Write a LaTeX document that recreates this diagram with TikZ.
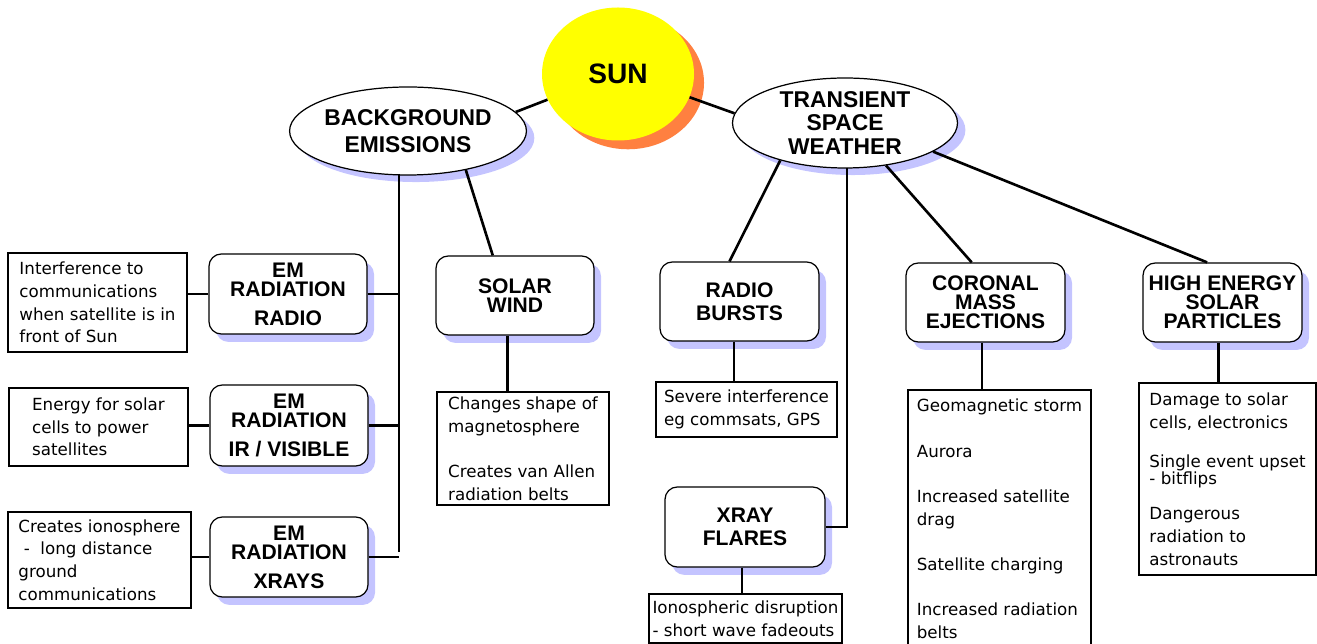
\documentclass[tikz,border=0pt]{standalone}
\usepackage{fontspec}
\setmainfont{Liberation Sans}
\newfontfamily\notefont{DejaVu Sans}
\usetikzlibrary{shapes.geometric,shadows}
\newdimen\pxu \pxu=0.02cm
\definecolor{sunyellow}{HTML}{FFFF00}
\definecolor{sunorange}{HTML}{FF8040}
\definecolor{shade}{HTML}{C4C4FF}
\begin{document}
\begin{tikzpicture}[x=0.02cm,y=-0.02cm,
  conn/.style={line width=1.5pt},
  topic/.style={draw, line width=0.7pt, fill=white, rounded corners=7pt, align=center,
    font=\bfseries\fontsize{12}{10.8}\selectfont, minimum width=158*\pxu, minimum height=80*\pxu,
    inner sep=0pt, drop shadow={shadow xshift=4pt, shadow yshift=-4.5pt, fill=shade, opacity=1}},
  note/.style={draw, line width=0.7pt, fill=white, align=left,
    font=\notefont\fontsize{9.5}{12.9}\selectfont, inner sep=0pt},
  ell/.style={ellipse, draw, line width=0.7pt, fill=white, minimum width=225*\pxu,
    minimum height=88*\pxu, inner sep=0pt, align=center,
    drop shadow={shadow xshift=4.5pt, shadow yshift=-4pt, fill=shade, opacity=1}}
]
\useasboundingbox (0,0) rectangle (1317,644);

% sun
\node[ellipse, fill=sunyellow, minimum width=152*\pxu, minimum height=133*\pxu, inner sep=0pt,
  drop shadow={shadow xshift=5.7pt, shadow yshift=-5pt, fill=sunorange, opacity=1},
  font=\bfseries\fontsize{16}{16}\selectfont] (sun) at (618,74) {\raisebox{-1.5pt}{SUN}};

% ellipses
\node[ell, font=\bfseries\fontsize{13}{15.3}\selectfont] (bg) at (408,131) {BACKGROUND\\EMISSIONS};
\node[ell, minimum height=90*\pxu, font=\bfseries\fontsize{13}{13.3}\selectfont] (tsw) at (845,123) {TRANSIENT\\SPACE\\WEATHER};

% left topics
\node[topic] (emr) at (288,294) {EM\\RADIATION\\[5.7pt]RADIO};
\node[topic, minimum height=81*\pxu] (emi) at (289,425.5) {EM\\RADIATION\\[5.7pt]IR / VISIBLE};
\node[topic] (emx) at (289,557) {EM\\RADIATION\\[5.7pt]XRAYS};

\node[note, minimum width=179*\pxu, minimum height=99*\pxu] (t1) at (97.5,302.5)
  {Interference to\\communications\\when satellite is in\\front of Sun};
\node[note, minimum width=179*\pxu, minimum height=78*\pxu] (t2) at (98.5,427)
  {Energy for solar\\cells to power\\satellites};
\node[note, minimum width=183*\pxu, minimum height=96*\pxu] (t3) at (99.5,560)
  {Creates ionosphere\\\ -\ \ long distance\\ground\\communications};

% solar wind
\node[topic, minimum height=79*\pxu] (sw) at (515,295.5) {SOLAR\\WIND};
\node[note, minimum width=172*\pxu, minimum height=113*\pxu] (swt) at (523,448.5)
  {Changes shape of\\magnetosphere\\[12.9pt]Creates van Allen\\radiation belts};

% radio bursts
\node[topic, minimum width=159*\pxu, minimum height=79*\pxu, font=\bfseries\fontsize{12}{13}\selectfont] (rb) at (739.5,301.5) {RADIO\\BURSTS};
\node[note, minimum width=181*\pxu, minimum height=55*\pxu] (rbt) at (746.5,409.5)
  {Severe interference\\eg commsats, GPS};

% xray flares
\node[topic, minimum width=160*\pxu, font=\bfseries\fontsize{12}{13}\selectfont] (xf) at (745,527) {XRAY\\FLARES};
\node[note, minimum width=193*\pxu, minimum height=49*\pxu] (xft) at (745.5,618.5)
  {Ionospheric disruption\\- short wave fadeouts};

% coronal mass ejections
\node[topic, minimum width=159*\pxu, minimum height=79*\pxu] (cme) at (985.5,302.5) {CORONAL\\MASS\\EJECTIONS};
\node[note, minimum width=183*\pxu, minimum height=258*\pxu] (cmet) at (999.5,519)
  {Geomagnetic storm\\[12.9pt]Aurora\\[12.9pt]Increased satellite\\drag\\[12.9pt]Satellite charging\\[12.9pt]Increased radiation\\belts};

% high energy solar particles
\node[topic, minimum width=159*\pxu, minimum height=79*\pxu] (hesp) at (1222.5,302.5) {HIGH ENERGY\\SOLAR\\PARTICLES};
\node[note, minimum width=177*\pxu, minimum height=192*\pxu] (hespt) at (1227.5,479)
  {Damage to solar\\cells, electronics\\[9.8pt]Single event upset\\[-3.3pt]- bitflips\\[7pt]Dangerous\\radiation to\\astronauts};

% trunk coordinates
\coordinate (tb) at (399,174);
\coordinate (te) at (399,552);
\coordinate (tv) at (847,168);

% connectors
\draw[conn] (bg.10) -- (sun.200);
\draw[conn] (sun.342) -- (tsw.175);
\draw[conn] (tb) -- (te);
\draw[conn] (emr.east) -- (emr.east -| tb);
\draw[conn] (emi.east) -- (emi.east -| tb);
\draw[conn] (emx.east) -- (emx.east -| te);
\draw[conn] (t1.east |- emr.west) -- (emr.west);
\draw[conn] (t2.east |- emi.west) -- (emi.west);
\draw[conn] (t3.east |- emx.west) -- (emx.west);
\draw[conn] (bg.326) -- (sw.119);
\draw[conn] (sw.259) -- (sw.259 |- swt.north);
\draw[conn] (tsw.210) -- (rb.104);
\draw[conn] (rb.262) -- (rb.262 |- rbt.north);
\draw[conn] (tv) |- (xf.east);
\draw[conn] (xf.266) -- (xf.266 |- xft.north);
\draw[conn] (tsw.314) -- (cme.109);
\draw[conn] (cme.265) -- (cme.265 |- cmet.north);
\draw[conn] (tsw.342) -- (hesp.111);
\draw[conn] (hesp.264) -- (hesp.264 |- hespt.north);
\end{tikzpicture}
\end{document}
